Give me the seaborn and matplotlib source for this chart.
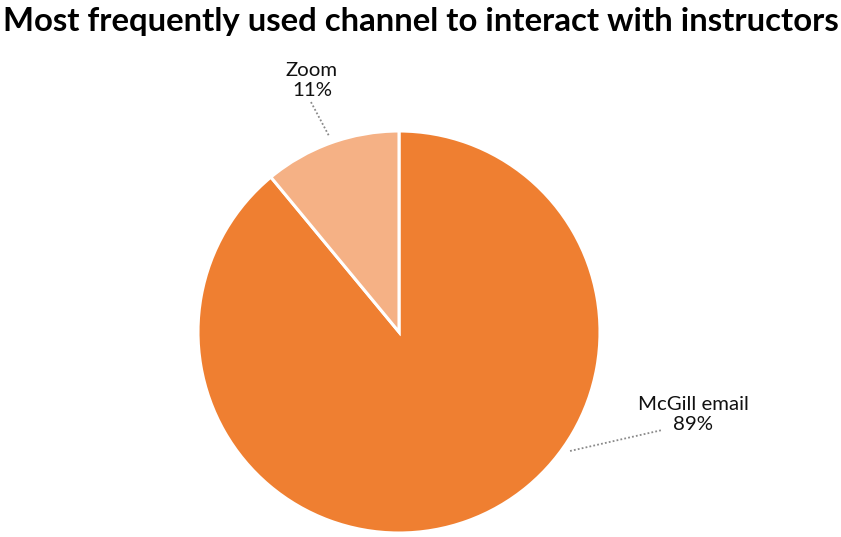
import matplotlib
matplotlib.use("Agg")
import matplotlib.pyplot as plt
import seaborn as sns

# data
channels = ["McGill email", "Zoom"]
shares = [89, 11]
slice_colors = ["#EF7F31", "#F5B185"]

sns.set_theme(style="white")
plt.rcParams["font.family"] = ["Lato", "DejaVu Sans"]

W, H = 841, 537
fig = plt.figure(figsize=(W / 100, H / 100), dpi=100)

# pie area: centre (399, 332) px, radius 201 px
cx, cy, r = 399, 332, 201
ax = fig.add_axes([(cx - r) / W, (H - cy - r) / H, 2 * r / W, 2 * r / H])
wedges, _ = ax.pie(
    shares,
    colors=slice_colors,
    startangle=90,
    counterclock=False,
    radius=1,
    wedgeprops=dict(edgecolor="white", linewidth=2.2),
)
ax.set_xlim(-1, 1)
ax.set_ylim(-1, 1)
ax.set_aspect("equal")
ax.axis("off")

# labels with dotted leader lines (axes-data units, radius = 1)
label_pos = {
    "McGill email": dict(text=(1.463, -0.41), line=[(0.851, -0.592), (1.308, -0.488)]),
    "Zoom": dict(text=(-0.433, 1.25), line=[(-0.438, 1.144), (-0.348, 0.975)]),
}
for name, val in zip(channels, shares):
    p = label_pos[name]
    ax.text(p["text"][0], p["text"][1], f"{name}\n{val}%", ha="center", va="center",
            fontsize=14.7, color="#111111", linespacing=1.2, clip_on=False)
    (x0, y0), (x1, y1) = p["line"]
    ax.plot([x0, x1], [y0, y1], linestyle=(0, (1, 1.2)), color="#8a8a8a",
            linewidth=1.3, clip_on=False)

fig.text(0.5, 1 - 21 / H, "Most frequently used channel to interact with instructors",
         ha="center", va="center", fontsize=23.7, fontweight="bold", color="black")

fig.savefig("out.png", dpi=100)
